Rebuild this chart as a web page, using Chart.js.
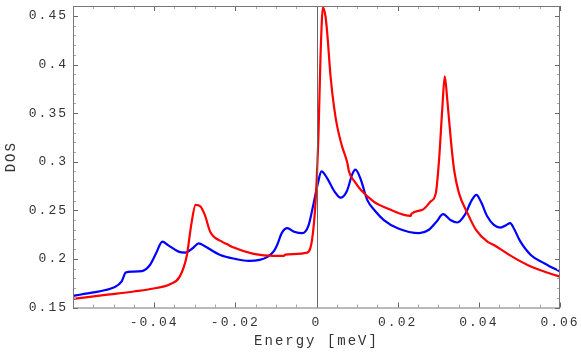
<!DOCTYPE html>
<html>
<head>
<meta charset="utf-8">
<script src="https://cdn.jsdelivr.net/npm/chart.js@4"></script>
<style>
  html, body { margin: 0; padding: 0; background: #fff; }
  #wrap { width: 581px; height: 359px; }
</style>
</head>
<body>
<div id="wrap"><canvas id="dos"></canvas></div>
<script>
// values
const blueEnergy = [-0.06, -0.055, -0.052, -0.05, -0.048, -0.047, -0.0455, -0.043, -0.041, -0.0395,
  -0.038, -0.0365, -0.034, -0.0324, -0.0305, -0.029, -0.0275, -0.0237, -0.02, -0.0167,
  -0.014, -0.0122, -0.0105, -0.0097, -0.0085, -0.0072, -0.0055, -0.0035, -0.002, -0.0007,
  0.0003, 0.00123, 0.0025, 0.0045, 0.0059, 0.0075, 0.0088, 0.0096, 0.0108, 0.0125,
  0.0145, 0.0166, 0.02, 0.0253, 0.0277, 0.0295, 0.0312, 0.033, 0.0347, 0.0365,
  0.0382, 0.0394, 0.0405, 0.0421, 0.0437, 0.0453, 0.0468, 0.0477, 0.0488, 0.05,
  0.0528, 0.0561, 0.06];
const blueDos = [0.162, 0.1655, 0.168, 0.1705, 0.177, 0.186, 0.187, 0.1875, 0.194, 0.206,
  0.2178, 0.214, 0.2075, 0.2065, 0.211, 0.216, 0.213, 0.204, 0.2, 0.198,
  0.199, 0.2018, 0.208, 0.2144, 0.227, 0.2316, 0.228, 0.2265, 0.234, 0.2574,
  0.277, 0.29, 0.284, 0.269, 0.263, 0.27, 0.287, 0.2918, 0.283, 0.2608,
  0.249, 0.24, 0.2316, 0.2265, 0.23, 0.238, 0.246, 0.24, 0.2375, 0.245,
  0.26, 0.266, 0.259, 0.2436, 0.235, 0.2323, 0.235, 0.2368, 0.23, 0.2196,
  0.2041, 0.1956, 0.187];

const redEnergy = [-0.06, -0.052, -0.045, -0.0398, -0.0361, -0.0337, -0.032, -0.0308, -0.0298, -0.0286,
  -0.0275, -0.0262, -0.0233, -0.0222, -0.0204, -0.0155, -0.0105, -0.008, -0.0077, -0.0023,
  -0.0011, -0.0002, 0.0005, 0.001, 0.0016, 0.0022, 0.00264, 0.00346, 0.0043, 0.0051,
  0.0063, 0.0076, 0.008, 0.0095, 0.0109, 0.0141, 0.0183, 0.0232, 0.0234, 0.0261,
  0.0281, 0.0294, 0.0302, 0.031, 0.0316, 0.0322, 0.0331, 0.0339, 0.0351, 0.0372,
  0.0393, 0.0421, 0.0437, 0.0479, 0.052, 0.0561, 0.06];
const redDos = [0.1588, 0.163, 0.1665, 0.1698, 0.174, 0.1818, 0.2024, 0.2368, 0.2557, 0.254,
  0.245, 0.228, 0.2178, 0.2155, 0.2117, 0.2052, 0.2031, 0.2032, 0.2045, 0.2065,
  0.2196, 0.261, 0.33, 0.41, 0.459, 0.45, 0.4327, 0.388, 0.357, 0.3364,
  0.3158, 0.2987, 0.29, 0.279, 0.2711, 0.259, 0.2505, 0.2443, 0.2464, 0.2505,
  0.259, 0.2677, 0.302, 0.355, 0.388, 0.365, 0.3227, 0.2918, 0.2677, 0.2471,
  0.2299, 0.2178, 0.2144, 0.2031, 0.1938, 0.187, 0.1818];

const xTicks = [-0.04, -0.02, 0, 0.02, 0.04, 0.06];
const xTickLabels = ["-0.04", "-0.02", "0", "0.02", "0.04", "0.06"];
const yTicks = [0.15, 0.2, 0.25, 0.3, 0.35, 0.4, 0.45];
const yTickLabels = ["0.15", "0.2", "0.25", "0.3", "0.35", "0.4", "0.45"];

const toPoints = (xs, ys) => xs.map((x, i) => ({ x: x, y: ys[i] }));

const spacing = {
  id: "spacing",
  beforeLayout(chart) { chart.ctx.letterSpacing = "2px"; },
  beforeDraw(chart) { chart.ctx.letterSpacing = "2px"; },
};

// Mathematica-like frame with inward ticks and the zero line
const frame = {
  id: "frame",
  afterDatasetsDraw(chart) {
    const { ctx, chartArea: a, scales } = chart;
    const x = scales.x, y = scales.y;
    ctx.save();
    ctx.lineWidth = 1;

    ctx.strokeStyle = "#666";
    const x0 = Math.round(x.getPixelForValue(0)) + 0.5;
    ctx.beginPath();
    ctx.moveTo(x0, a.top);
    ctx.lineTo(x0, a.bottom);
    ctx.stroke();

    const tick = (px, py, dx, dy, color) => {
      ctx.strokeStyle = color;
      ctx.beginPath();
      ctx.moveTo(px, py);
      ctx.lineTo(px + dx, py + dy);
      ctx.stroke();
    };
    for (let i = 0; i <= 24; i++) {
      const v = -0.06 + i * 0.005;
      const major = i % 4 === 0;
      const len = major ? 5 : 3;
      const col = major ? "#666" : "#aaa";
      const px = Math.round(x.getPixelForValue(v)) + 0.5;
      tick(px, a.bottom, 0, -len, col);
      tick(px, a.top, 0, len, col);
    }
    for (let i = 0; i <= 31; i++) {
      const v = 0.15 + i * 0.01;
      const major = i % 5 === 0;
      const len = major ? 5 : 3;
      const col = major ? "#666" : "#aaa";
      const py = Math.round(y.getPixelForValue(v)) + 0.5;
      tick(a.left, py, len, 0, col);
      tick(a.right, py, -len, 0, col);
    }

    ctx.strokeStyle = "#777";
    ctx.strokeRect(a.left + 0.5, a.top + 0.5, a.right - a.left - 1, a.bottom - a.top);
    ctx.restore();
  },
};

new Chart(document.getElementById("dos"), {
  type: "line",
  data: {
    datasets: [
      {
        label: "red",
        data: toPoints(redEnergy, redDos),
        borderColor: "#ff0000",
        borderWidth: 2.2,
        pointRadius: 0,
        cubicInterpolationMode: "monotone",
      },
      {
        label: "blue",
        data: toPoints(blueEnergy, blueDos),
        borderColor: "#0000ff",
        borderWidth: 2.2,
        pointRadius: 0,
        cubicInterpolationMode: "monotone",
      },
    ],
  },
  options: {
    animation: false,
    responsive: true,
    maintainAspectRatio: false,
    layout: { padding: { left: 0, top: 6, right: 21, bottom: 0 } },
    plugins: { legend: { display: false }, tooltip: { enabled: false } },
    scales: {
      x: {
        type: "linear",
        min: -0.06,
        max: 0.06,
        afterBuildTicks: (s) => { s.ticks = xTicks.map((v) => ({ value: v })); },
        afterFit: (s) => { s.height = 51.5; s.paddingLeft = 0; s.paddingRight = 0; },
        grid: { display: false, drawTicks: false },
        border: { display: false },
        ticks: {
          padding: 7,
          color: "#333",
          maxRotation: 0,
          autoSkip: false,
          font: { family: "'Liberation Mono', 'DejaVu Sans Mono', monospace", size: 13 },
          callback: (v) => xTickLabels[xTicks.findIndex((t) => Math.abs(t - v) < 1e-9)],
        },
        title: {
          display: true,
          text: "Energy [meV]",
          color: "#333",
          padding: { top: 0, bottom: 9 },
          font: { family: "'Liberation Mono', 'DejaVu Sans Mono', monospace", size: 14 },
        },
      },
      y: {
        min: 0.15,
        max: 0.4603,
        afterBuildTicks: (s) => { s.ticks = yTicks.map((v) => ({ value: v })); },
        afterFit: (s) => { s.width = 73; s.paddingTop = 0; s.paddingBottom = 0; },
        grid: { display: false, drawTicks: false },
        border: { display: false },
        ticks: {
          padding: 5,
          color: "#333",
          autoSkip: false,
          font: { family: "'Liberation Mono', 'DejaVu Sans Mono', monospace", size: 13 },
          callback: (v) => yTickLabels[yTicks.findIndex((t) => Math.abs(t - v) < 1e-9)],
        },
        title: {
          display: true,
          text: "DOS",
          color: "#333",
          padding: { top: 3, bottom: 0 },
          font: { family: "'Liberation Mono', 'DejaVu Sans Mono', monospace", size: 14 },
        },
      },
    },
  },
  plugins: [spacing, frame],
});
</script>
</body>
</html>
